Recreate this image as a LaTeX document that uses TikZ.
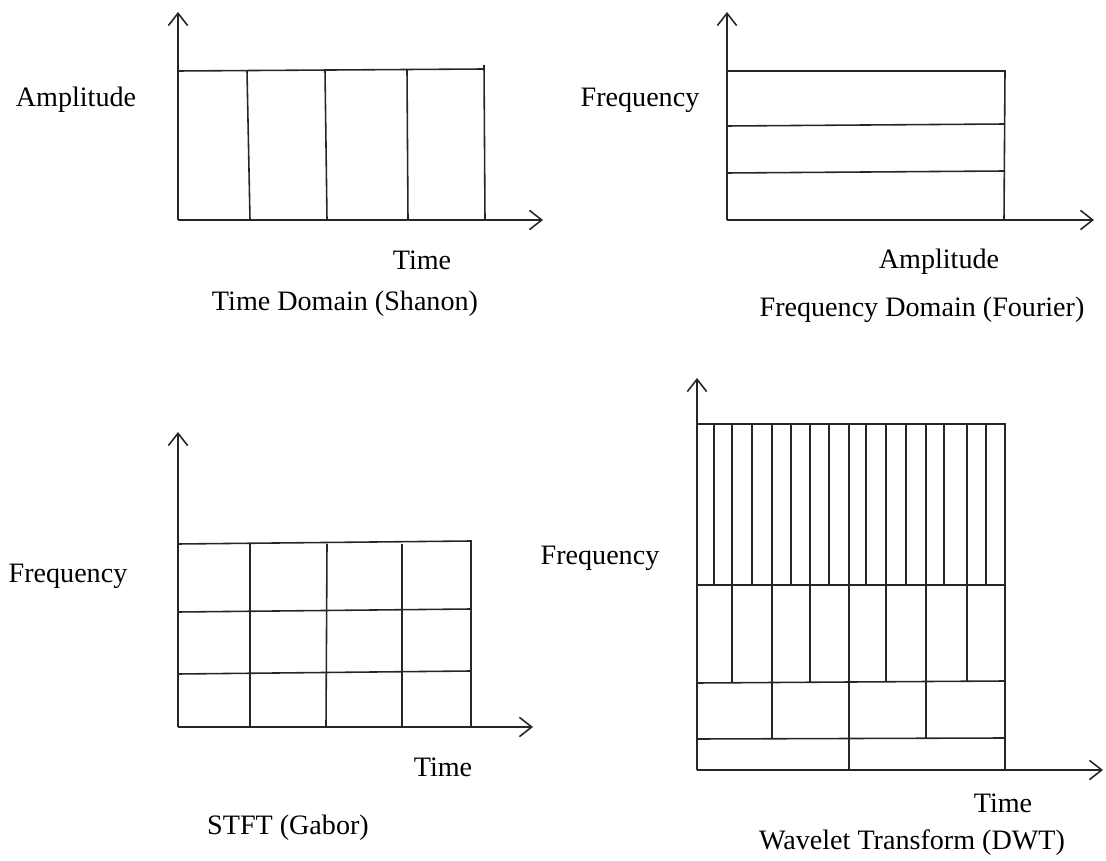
\documentclass[tikz,border=0pt]{standalone}
\usepackage{fontspec}
\setmainfont{Liberation Serif}
\usepackage{tikz}
\usetikzlibrary{positioning}
\usetikzlibrary{arrows.meta}
\tikzset{
  axis/.style={draw=black!85, line width=0.9pt, -{Straight Barb[length=7pt,width=11pt]}},
  cell/.style={draw=black!85, line width=0.9pt},
}

\begin{document}
\begin{tikzpicture}[x=0.02cm,y=-0.02cm]
	\useasboundingbox (0,0) rectangle (1106,861);

	\coordinate (tdO) at (178,220);
	\coordinate (tdY) at (178,12);
	\coordinate (tdX) at (543,220);
	\coordinate (fdO) at (727,220);
	\coordinate (fdY) at (727,12);
	\coordinate (fdX) at (1094,220);
	\coordinate (stO) at (178,727);
	\coordinate (stY) at (178,432);
	\coordinate (stX) at (533,727);
	\coordinate (wtO) at (697,770);
	\coordinate (wtY) at (697,378);
	\coordinate (wtX) at (1103,770);

	\draw [axis] (tdO) -- (tdY);
	\draw [axis] (tdO) -- (tdX);
	\draw [axis] (fdO) -- (fdY);
	\draw [axis] (fdO) -- (fdX);
	\draw [axis] (stO) -- (stY);
	\draw [axis] (stO) -- (stX);
	\draw [axis] (wtO) -- (wtY);
	\draw [axis] (wtO) -- (wtX);

	\begin{scope}[every path/.style={cell}]
	    % time domain
	    \draw (178,71) -- (484,69);
	    \draw (484,65) -- (485,220);
	    \draw (247,71) -- (250,220);
	    \draw (325,70) -- (327,220);
	    \draw (407,70) -- (408,220);
	    % frequency domain
	    \draw (727,71) -- (1005,71) -- (1004,220);
	    \draw (727,126) -- (1005,124);
	    \draw (727,173) -- (1005,171);
	    % stft
	    \draw (178,544) -- (471,541) -- (471,727);
	    \draw (178,612) -- (471,609);
	    \draw (178,674) -- (471,671);
	    \draw (250,544) -- (250,727);
	    \draw (327,544) -- (326,727);
	    \draw (402,544) -- (402,727);
	    % wavelet
	    \draw (697,424) -- (1005,424) -- (1005,770);
	    \draw (697,585) -- (1005,585);
	    \draw (697,683) -- (1005,681);
	    \draw (697,739) -- (1005,738);
	    \foreach \x in {714,732,752,772,791,810,829,849,866,886,906,926,944,967,986}
	        \draw (\x,424) -- (\x,585);
	    \foreach \x in {732,772,810,849,886,926,967}
	        \draw (\x,585) -- (\x,682);
	    \foreach \x in {772,849,926}
	        \draw (\x,682) -- (\x,739);
	    \draw (849,739) -- (849,770);
	\end{scope}

	\begin{scope}[every node/.style={font=\fontsize{16}{19}\selectfont, inner sep=0pt}]
	    \node (tdA) at (76,100) {Amplitude};
	    \node (tdT) at (422,260) {Time};
	    \node (tdC) at (345,304) {Time Domain (Shanon)};
	    \node (fdF) at (640,100) {Frequency};
	    \node (fdA) at (939,262) {Amplitude};
	    \node (fdC) at (922,310) {Frequency Domain (Fourier)};
	    \node (stF) at (68,576) {Frequency};
	    \node (stT) at (443,767) {Time};
	    \node (stC) at (288,828) {STFT (Gabor)};
	    \node (wtF) at (600,558) {Frequency};
	    \node (wtT) at (1003,803) {Time};
	    \node (wtC) at (912,843) {Wavelet Transform (DWT)};
	\end{scope}
\end{tikzpicture}
\end{document}
